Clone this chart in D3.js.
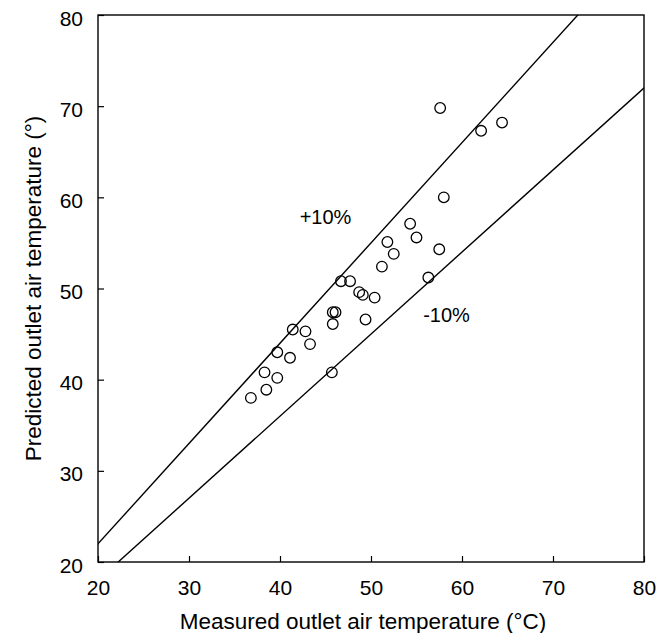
<!DOCTYPE html>
<html><head><meta charset="utf-8">
<script src="https://cdn.jsdelivr.net/npm/d3@7"></script>
<style>body{margin:0;background:#fff}text{font-family:"Liberation Sans",Arial,sans-serif}</style>
</head><body><svg id="c" width="667" height="633"></svg>
<script>
const measured = [36.8,38.5,38.3,39.7,39.7,41.1,41.4,42.8,43.3,45.7,45.8,45.8,46.1,49.4,46.7,47.7,48.7,49.1,50.4,51.2,51.8,52.5,54.3,55.0,56.3,57.5,58.0,57.6,62.1,64.4];
const predicted = [38.0,38.9,40.8,40.2,43.0,42.4,45.5,45.3,43.9,40.8,46.1,47.4,47.4,46.6,50.8,50.8,49.6,49.3,49.0,52.4,55.1,53.8,57.1,55.6,51.2,54.3,60.0,69.8,67.3,68.2];
const xTicks = [20,30,40,50,60,70,80];
const yTicks = [20,30,40,50,60,70,80];
const bands = [{factor:1.1,label:"+10%",lx:45.0,ly:57.9},{factor:0.9,label:"-10%",lx:58.3,ly:47.1}];

const svg = d3.select("#c");
const L=98,R=644,T=15,B=562;
const x = d3.scaleLinear().domain([20,80]).range([L,R]);
const y = d3.scaleLinear().domain([20,80]).range([B,T]);

svg.append("defs").append("clipPath").attr("id","clip").append("rect")
  .attr("x",L).attr("y",T).attr("width",R-L).attr("height",B-T);

const xa = svg.append("g").attr("transform",`translate(0,${B})`)
  .call(d3.axisBottom(x).tickValues(xTicks).tickSizeInner(-6).tickSizeOuter(0).tickPadding(18));
const ya = svg.append("g").attr("transform",`translate(${L},0)`)
  .call(d3.axisLeft(y).tickValues(yTicks).tickSizeInner(-6).tickSizeOuter(0).tickPadding(15));
[xa,ya].forEach(a=>{a.attr("font-size",null).attr("font-family",null);a.selectAll("text").attr("font-size",21).attr("fill","#000");a.selectAll("line").attr("stroke","#000").attr("stroke-width",1.2);a.select(".domain").remove();});
ya.selectAll("text").attr("dy","0.48em");

svg.append("rect").attr("x",L).attr("y",T).attr("width",R-L).attr("height",B-T)
  .attr("fill","none").attr("stroke","#000").attr("stroke-width",1.4);

const g = svg.append("g").attr("clip-path","url(#clip)");
bands.forEach(b=>{
  g.append("line").attr("x1",x(0)).attr("y1",y(0)).attr("x2",x(100)).attr("y2",y(100*b.factor))
    .attr("stroke","#000").attr("stroke-width",1.4);
  svg.append("text").attr("x",x(b.lx)).attr("y",y(b.ly)).attr("dy","0.36em").attr("text-anchor","middle")
    .attr("font-size",20).text(b.label);
});

svg.append("g").selectAll("circle").data(measured).join("circle")
  .attr("cx",d=>x(d)).attr("cy",(d,i)=>y(predicted[i])).attr("r",5.3)
  .attr("fill","none").attr("stroke","#000").attr("stroke-width",1.3);

svg.append("text").attr("x",363).attr("y",629).attr("text-anchor","middle")
  .attr("font-size",22.5).text("Measured outlet air temperature (°C)");
svg.append("text").attr("transform",`translate(33,${(T+B)/2}) rotate(-90)`).attr("text-anchor","middle")
  .attr("dy","0.36em").attr("font-size",22.5).text("Predicted outlet air temperature (°)");
</script></body></html>
